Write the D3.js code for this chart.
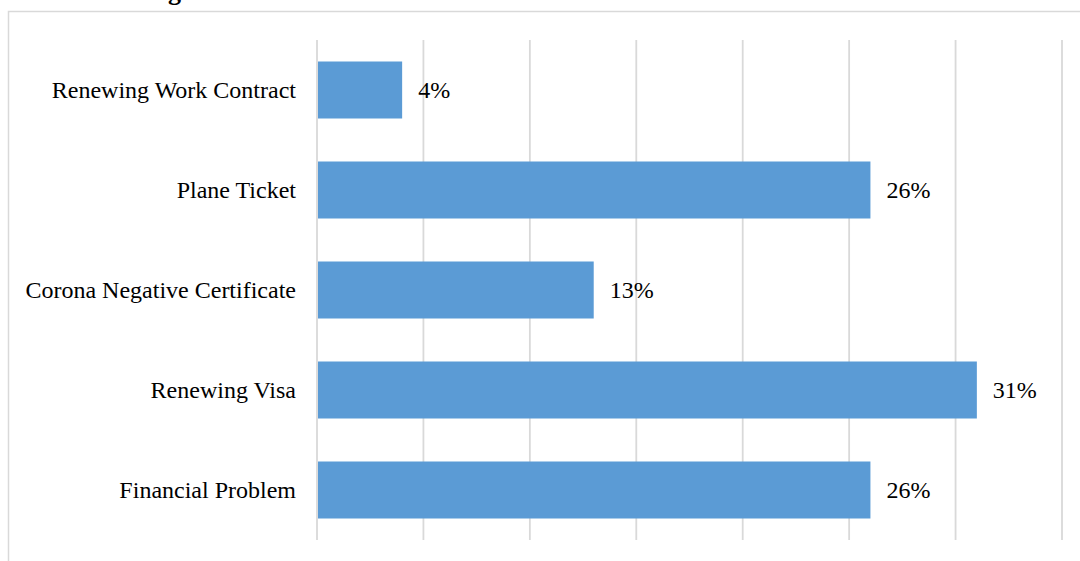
<!DOCTYPE html>
<html>
<head>
<meta charset="utf-8">
<script src="https://cdn.jsdelivr.net/npm/d3@7"></script>
<style>
  html, body { margin: 0; padding: 0; background: #fff; }
  svg { display: block; }
</style>
</head>
<body>
<svg id="chart" width="1080" height="561"></svg>
<script>
// Reasons given by returnee workers, share of respondents (%)
const categories = [
  "Renewing Work Contract",
  "Plane Ticket",
  "Corona Negative Certificate",
  "Renewing Visa",
  "Financial Problem"
];
const values = [4, 26, 13, 31, 26];
const tickValues = [0, 5, 10, 15, 20, 25, 30, 35];
const titleText = "Reasons of emigration of the returnee workers";

const svg = d3.select("#chart");
const W = 1080, H = 561;
const font = "'Liberation Serif', 'Times New Roman', serif";

// Frame around the chart area
svg.append("rect")
  .attr("x", 8.5).attr("y", 11.5)
  .attr("width", W + 20).attr("height", H + 20)
  .attr("fill", "none")
  .attr("stroke", "#d9d9d9")
  .attr("stroke-width", 1.5);

// Heading (sits above the frame, mostly above the top edge)
svg.append("text")
  .attr("x", 517).attr("y", -0.2)
  .attr("text-anchor", "end")
  .attr("font-family", font)
  .attr("font-weight", "bold")
  .attr("font-size", 26)
  .attr("fill", "#000")
  .text(titleText);

const x = d3.scaleLinear().domain([0, 35]).range([317, 1062]);
const y = d3.scaleBand()
  .domain(categories)
  .range([40, 540])
  .paddingInner(0.43)
  .paddingOuter(0.215);

// Vertical gridlines
svg.append("g")
  .selectAll("line")
  .data(tickValues)
  .join("line")
  .attr("x1", d => x(d)).attr("x2", d => x(d))
  .attr("y1", 40).attr("y2", 540)
  .attr("stroke", "#d9d9d9")
  .attr("stroke-width", 1.8);

// Bars
svg.append("g")
  .selectAll("rect")
  .data(values)
  .join("rect")
  .attr("x", x(0) + 1)
  .attr("y", (d, i) => y(categories[i]))
  .attr("width", d => x(d) - x(0) - 1)
  .attr("height", y.bandwidth())
  .attr("fill", "#5b9bd5");

// Category labels
svg.append("g")
  .selectAll("text")
  .data(categories)
  .join("text")
  .attr("x", x(0) - 21)
  .attr("y", d => y(d) + y.bandwidth() / 2)
  .attr("dy", "0.33em")
  .attr("text-anchor", "end")
  .attr("font-family", font)
  .attr("font-size", 24)
  .attr("fill", "#000")
  .text(d => d);

// Value labels
svg.append("g")
  .selectAll("text")
  .data(values)
  .join("text")
  .attr("x", d => x(d) + 16)
  .attr("y", (d, i) => y(categories[i]) + y.bandwidth() / 2)
  .attr("dy", "0.33em")
  .attr("font-family", font)
  .attr("font-size", 24)
  .attr("fill", "#000")
  .text(d => d + "%");
</script>
</body>
</html>
